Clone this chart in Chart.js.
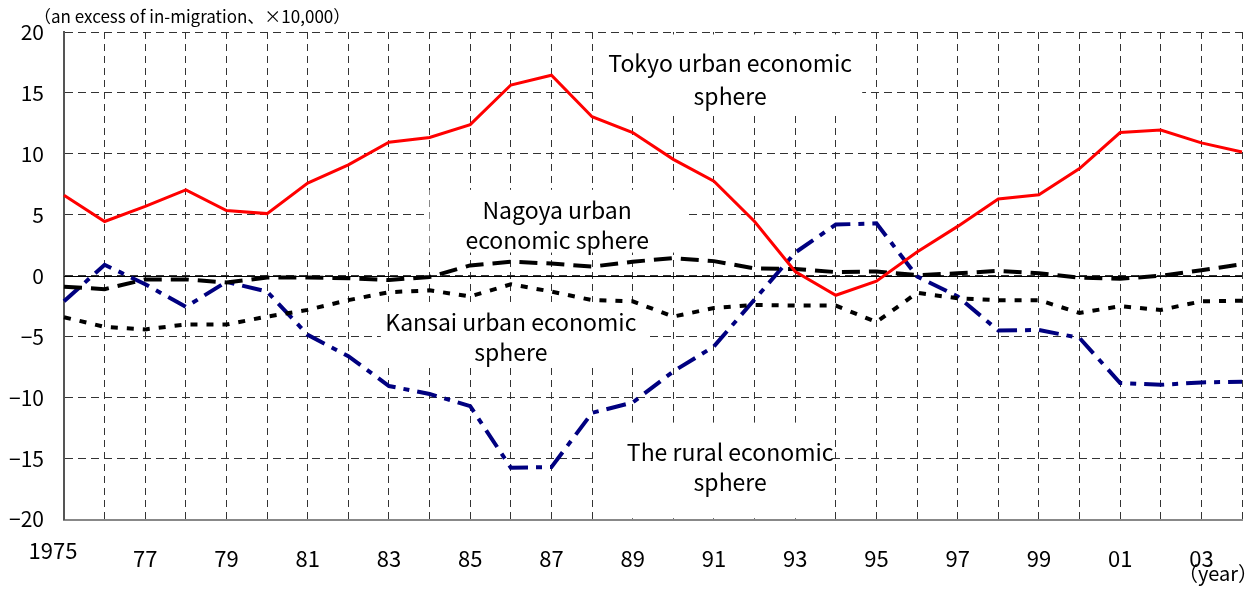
<!DOCTYPE html>
<html>
<head>
<meta charset="utf-8">
<script src="https://cdn.jsdelivr.net/npm/chart.js@4/dist/chart.umd.min.js"></script>
<style>
  html, body { margin: 0; padding: 0; background: #fff; }
  #wrap { width: 1256px; height: 592px; position: relative; }
</style>
</head>
<body>
<div id="wrap"><canvas id="migration"></canvas></div>
<script>
const years = ['1975','1976','1977','1978','1979','1980','1981','1982','1983','1984',
  '1985','1986','1987','1988','1989','1990','1991','1992','1993','1994',
  '1995','1996','1997','1998','1999','2000','2001','2002','2003','2004'];
const xTickLabels = ['1975','','77','','79','','81','','83','','85','','87','','89','',
  '91','','93','','95','','97','','99','','01','','03',''];

const tokyo  = [6.6, 4.45, 5.7, 7.05, 5.35, 5.1, 7.6, 9.1, 10.95, 11.35,
  12.4, 15.65, 16.45, 13.05, 11.75, 9.55, 7.75, 4.45, 0.35, -1.6,
  -0.45, 1.95, 4.05, 6.3, 6.65, 8.8, 11.75, 11.95, 10.9, 10.15];
const nagoya = [-0.9, -1.1, -0.3, -0.3, -0.55, -0.15, -0.15, -0.2, -0.35, -0.1,
  0.85, 1.15, 1.0, 0.75, 1.15, 1.45, 1.2, 0.6, 0.55, 0.3,
  0.35, 0.05, 0.2, 0.4, 0.2, -0.15, -0.25, 0.0, 0.45, 0.95];
const kansai = [-3.4, -4.2, -4.4, -4.0, -4.0, -3.35, -2.8, -2.0, -1.35, -1.2,
  -1.7, -0.7, -1.3, -2.0, -2.1, -3.35, -2.65, -2.4, -2.45, -2.45,
  -3.8, -1.4, -1.85, -2.0, -2.0, -3.05, -2.5, -2.8, -2.1, -2.05];
const rural  = [-2.1, 0.9, -0.7, -2.55, -0.5, -1.3, -4.85, -6.6, -9.05, -9.7,
  -10.7, -15.75, -15.7, -11.25, -10.4, -7.85, -5.8, -1.95, 1.9, 4.2,
  4.3, -0.05, -1.7, -4.5, -4.45, -5.1, -8.8, -8.95, -8.75, -8.7];

// label boxes in axis units: x = year index, y = value
const notes = [
  { text: ['Tokyo urban economic', 'sphere'], x: 16.4, y: [17.45, 14.75], box: [13.07, 19.65, 19.8, 13.4] },
  { text: ['Nagoya urban', 'economic sphere'], x: 12.14, y: [5.4, 2.95], box: [9.0, 15.3, 7.05, 1.9] },
  { text: ['Kansai urban economic', 'sphere'], x: 11.0, y: [-3.85, -6.3], box: [7.8, 14.35, -2.15, -7.55] },
  { text: ['The rural economic', 'sphere'], x: 16.4, y: [-14.45, -16.95], box: [13.07, 18.86, -12.05, -19.9] }
];

const FONT = '"Noto Sans CJK JP", "Noto Sans", sans-serif';

const labelPlugin = {
  id: 'labels',
  beforeDatasetsDraw(chart) {
    const { ctx, scales: { x, y }, chartArea } = chart;
    ctx.save();
    // white boxes behind the series names
    ctx.fillStyle = '#fff';
    notes.forEach(n => {
      const l = x.getPixelForValue(n.box[0]), r = x.getPixelForValue(n.box[1]);
      const t = y.getPixelForValue(n.box[2]), b = y.getPixelForValue(n.box[3]);
      ctx.fillRect(l, t, r - l, b - t);
    });
    // zero line
    ctx.strokeStyle = '#000';
    ctx.lineWidth = 1;
    ctx.beginPath();
    const y0 = Math.round(y.getPixelForValue(0)) + 0.5;
    ctx.moveTo(chartArea.left, y0);
    ctx.lineTo(chartArea.right, y0);
    ctx.stroke();
    // series names
    ctx.fillStyle = '#000';
    ctx.font = '23px ' + FONT;
    ctx.textAlign = 'center';
    ctx.textBaseline = 'middle';
    notes.forEach(n => {
      n.text.forEach((s, i) => ctx.fillText(s, x.getPixelForValue(n.x), y.getPixelForValue(n.y[i])));
    });
    ctx.restore();
  },
  afterDraw(chart) {
    const { ctx, scales: { x } } = chart;
    ctx.save();
    ctx.fillStyle = '#000';
    ctx.textBaseline = 'middle';
    ctx.font = '22px ' + FONT;
    ctx.textAlign = 'center';
    ctx.fillText(xTickLabels[0], x.getPixelForValue(0) - 11, 551);
    ctx.font = '17px ' + FONT;
    ctx.textAlign = 'left';
    ctx.fillText('（an excess of in-migration、×10,000）', 34, 17);
    ctx.font = '20px ' + FONT;
    ctx.textAlign = 'right';
    ctx.fillText('（year）', 1258, 573);
    ctx.restore();
  }
};

new Chart(document.getElementById('migration'), {
  type: 'line',
  data: {
    labels: years,
    datasets: [
      { label: 'Tokyo', data: tokyo, borderColor: '#ff0000', borderWidth: 3 },
      { label: 'Nagoya', data: nagoya, borderColor: '#000', borderWidth: 4, borderDash: [18, 9] },
      { label: 'Kansai', data: kansai, borderColor: '#000', borderWidth: 4, borderDash: [7, 9] },
      { label: 'Rural', data: rural, borderColor: '#000080', borderWidth: 4, borderDash: [20, 8, 6, 8] }
    ]
  },
  options: {
    responsive: true,
    maintainAspectRatio: false,
    animation: false,
    layout: { padding: { top: 32, right: 14, left: 0, bottom: 0 } },
    elements: { point: { radius: 0 }, line: { tension: 0, fill: false } },
    plugins: { legend: { display: false }, tooltip: { enabled: false } },
    scales: {
      x: {
        offset: false,
        afterFit: s => { s.height = 72.5; s.paddingLeft = 0; s.paddingRight = 0; },
        grid: { color: '#333', lineWidth: 1, drawTicks: false },
        border: { display: true, color: '#888', width: 2, dash: [7, 5] },
        ticks: {
          autoSkip: false, maxRotation: 0, padding: 26,
          color: '#000', font: { family: FONT, size: 22 },
          callback: (v, i) => (i === 0 ? '' : xTickLabels[i])
        }
      },
      y: {
        min: -20, max: 20,
        afterFit: s => { s.width = 64; s.paddingTop = 0; s.paddingBottom = 0; },
        grid: { color: '#333', lineWidth: 1, drawTicks: false },
        border: { display: true, color: '#555', width: 2, dash: [8, 5] },
        ticks: {
          stepSize: 5, padding: 20,
          color: '#000', font: { family: FONT, size: 21 },
          callback: v => String(v).replace('-', '\u2212')
        }
      }
    }
  },
  plugins: [labelPlugin]
});
</script>
</body>
</html>
